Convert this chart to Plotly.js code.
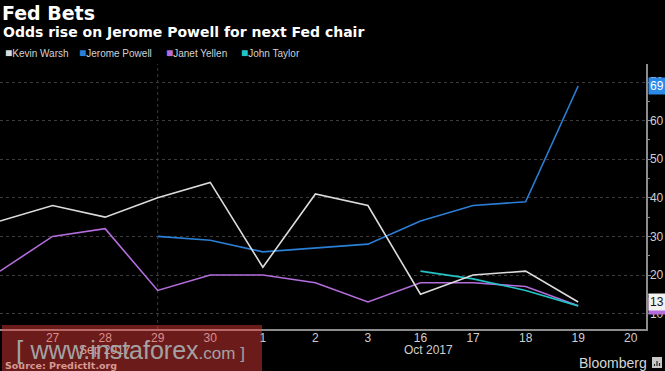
<!DOCTYPE html>
<html>
<head>
<meta charset="utf-8">
<script src="https://cdn.plot.ly/plotly-3.0.1.min.js"></script>
<style>html,body{margin:0;padding:0;background:#000;}#chart{width:665px;height:371px;}</style>
</head>
<body>
<div id="chart"></div>
<script>
// ---- data ----
const categories = ['26','27','28','29','30','1','2','3','16','17','18','19','20'];
const tickCats   = ['27','28','29','30','1','2','3','16','17','18','19','20'];
const tickLabels = ['27','28','29','30','1','2','3','16','17','18','19','20'];
const monthLabels = ['Sep 2017','Oct 2017'];
const seriesNames = ['Kevin Warsh','Jerome Powell','Janet Yellen','John Taylor'];
const warsh  = [34,38,35,40,44,22,41,38,15,20,21,13,null];
const powell = [null,null,null,30,29,26,27,28,34,38,39,69,null];
const yellen = [21,30,32,16,20,20,18,13,18,18,17,12,null];
const taylor = [null,null,null,null,null,null,null,null,21,19,16,12,null];
const yTicks = [10,20,30,40,50,60,70];
const yMinor = [15,25,35,45,55,65];
const gridCats = ['30','3','17'];

// ---- style ----
const colors = ['#dcdcdc','#2b7fd6','#b46ddd','#22c4c6'];
const seriesData = [warsh, powell, yellen, taylor];
const W = 665, H = 371, ML = 0, MR = 19, MT = 64, MB = 42;
const PW = W - ML - MR, PH = H - MT - MB;
const px = x => (x - ML) / PW;
const py = y => (H - MB - y) / PH;

const traces = seriesData.map((d, i) => ({
  type: 'scatter', mode: 'lines', x: categories, y: d,
  name: seriesNames[i], line: {color: colors[i], width: 1.6},
  connectgaps: false, showlegend: false, hoverinfo: 'skip'
}));
const order = [2, 3, 1, 0];
const data = order.map(i => traces[i]);

const lastVal = d => { for (let k = d.length - 1; k >= 0; k--) if (d[k] != null) return d[k]; return null; };

const annotations = [];
annotations.push({xref:'paper', yref:'paper', x:px(1), y:py(32), xanchor:'left', yanchor:'middle',
  text:'<b>Odds rise on Jerome Powell for next Fed chair</b>', showarrow:false,
  font:{family:'DejaVu Sans', size:14, color:'#ffffff'}});
const legendX = [3, 77, 164, 239];
seriesNames.forEach((n, i) => {
  annotations.push({xref:'paper', yref:'paper', x:px(legendX[i]), y:py(53), xanchor:'left', yanchor:'middle',
    text:'<span style="color:' + colors[i] + ';font-size:12px">■</span>' + n, showarrow:false,
    font:{family:'Liberation Sans', size:10, color:'#d2d2d2'}});
});
const monthX = [105, 428];
monthLabels.forEach((m, i) => {
  annotations.push({xref:'paper', yref:'paper', x:px(monthX[i]), y:py(350), xanchor:'center', yanchor:'middle',
    text:m, showarrow:false,
    font:{family:'Liberation Sans', size:12, color: i === 0 ? '#d8a6a6' : '#cfcfcf'}});
});
annotations.push({xref:'paper', yref:'y', x:1, y:lastVal(yellen), xanchor:'left', yanchor:'middle', xshift:2,
  text:String(lastVal(yellen)), showarrow:false, bgcolor:colors[2], borderpad:1,
  font:{family:'Liberation Sans', size:12, color:colors[2]}});
annotations.push({xref:'paper', yref:'y', x:1, y:lastVal(warsh), xanchor:'left', yanchor:'middle', xshift:2,
  text:String(lastVal(warsh)), showarrow:false, bgcolor:'#f2f2f2', borderpad:1,
  font:{family:'Liberation Sans', size:12, color:'#111'}});
annotations.push({xref:'paper', yref:'y', x:1, y:lastVal(powell), xanchor:'left', yanchor:'middle', xshift:2,
  text:String(lastVal(powell)), showarrow:false, bgcolor:'#2b8ae8', borderpad:1,
  font:{family:'Liberation Sans', size:12, color:'#ffffff'}});
annotations.push({xref:'paper', yref:'paper', x:px(14), y:py(350), xanchor:'left', yanchor:'middle',
  text:'<span style="font-size:26px">[ </span><span style="font-size:25px">www.instaforex</span><span style="font-size:17px">.com ]</span>',
  showarrow:false, font:{family:'Liberation Sans', size:20, color:'#a3a3a3'}});
annotations.push({xref:'paper', yref:'paper', x:px(3), y:py(365), xanchor:'left', yanchor:'middle',
  text:'<b>Source: PredictIt.org</b>', showarrow:false,
  font:{family:'DejaVu Sans', size:9.5, color:'#d69a92'}});
annotations.push({xref:'paper', yref:'paper', x:px(649), y:py(363), xanchor:'right', yanchor:'middle',
  text:'Bloomberg', showarrow:false, font:{family:'Liberation Sans', size:14, color:'#d6d6d6'}});

const shapes = gridCats.map(c => ({type:'line', xref:'x', yref:'paper', x0:c, x1:c, y0:0, y1:1,
  layer:'below', line:{color:'#3c3c3c', width:1, dash:'dot'}}));
shapes.push({type:'rect', xref:'paper', yref:'paper', x0:px(2), x1:px(262), y0:py(325), y1:py(372),
  fillcolor:'rgba(240,60,60,0.45)', line:{width:0}, layer:'above'});
shapes.push({type:'rect', xref:'paper', yref:'paper', x0:px(652), x1:px(662), y0:py(357), y1:py(368),
  fillcolor:'#c8c8c8', line:{width:0}, layer:'above'});
[[654.5, 364], [657, 361], [659.5, 363]].forEach(b => shapes.push({type:'line', xref:'paper', yref:'paper',
  x0:px(b[0]), x1:px(b[0]), y0:py(366), y1:py(b[1]), line:{color:'#222', width:1.2}, layer:'above'}));

const layout = {
  width: W, height: H,
  paper_bgcolor:'#000', plot_bgcolor:'#000',
  margin:{l:ML, r:MR, t:MT, b:MB, pad:0},
  title:{text:'<b>Fed Bets</b>', x:2/W, xanchor:'left', xref:'paper', y:1-13/H, yanchor:'middle', yref:'container',
    font:{family:'DejaVu Sans', size:19, color:'#ffffff'}},
  xaxis:{type:'category', range:[0, 12.29], autorange:false, showgrid:false, zeroline:false,
    showline:true, linecolor:'#8c8c8c', linewidth:1.5,
    tickmode:'array', tickvals:tickCats, ticktext:tickLabels, ticks:'', ticklabelstandoff:-3,
    tickfont:{family:'Liberation Sans', size:12, color:'#cfcfcf'}, fixedrange:true},
  yaxis:{side:'right', range:[6.0, 74.7], autorange:false, zeroline:false,
    tickmode:'array', tickvals:yTicks, showgrid:true, gridcolor:'#3c3c3c', griddash:'dot', gridwidth:1,
    showline:true, linecolor:'#8c8c8c', linewidth:1.5,
    ticks:'outside', ticklen:3, tickcolor:'#8c8c8c', ticklabelstandoff:-3,
    minor:{tickmode:'array', tickvals:yMinor, ticks:'outside', ticklen:2, tickcolor:'#8c8c8c', showgrid:false},
    tickfont:{family:'Liberation Sans', size:12, color:'#cfcfcf'}, fixedrange:true},
  showlegend:false,
  annotations: annotations,
  shapes: shapes
};

Plotly.newPlot('chart', data, layout, {displayModeBar:false, staticPlot:true});
</script>
</body>
</html>
